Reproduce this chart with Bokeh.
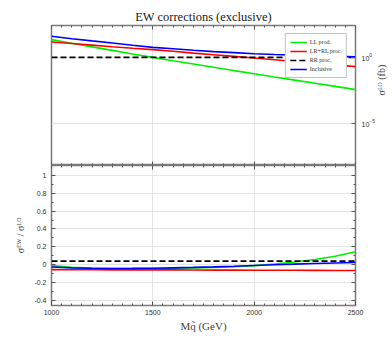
import math
from bokeh.plotting import figure
from bokeh.layouts import column
from bokeh.models import (FixedTicker, LinearAxis, Legend, LegendItem,
                          NumeralTickFormatter, Range1d, CustomLabelingPolicy)
from bokeh.embed import file_html
from bokeh.resources import INLINE

# ---------------- data ----------------
mass = [1000, 1100, 1200, 1300, 1400, 1500, 1600, 1700, 1800, 1900,
        2000, 2100, 2200, 2300, 2400, 2500]

# sigma^LO (fb)
lo_LL = [22.4, 11.7, 6.3, 3.4, 1.82, 1.0, 0.56, 0.32, 0.18, 0.10,
         0.058, 0.033, 0.019, 0.011, 0.0063, 0.0036]
lo_LR = [14.8, 11.2, 8.5, 6.5, 5.0, 3.9, 2.9, 2.1, 1.6, 1.2,
         0.89, 0.66, 0.49, 0.36, 0.27, 0.20]
lo_RR = [1.0] * 16
lo_inc = [40.0, 26.0, 17.8, 12.3, 8.3, 5.8, 4.5, 3.5, 2.75, 2.3,
          1.9, 1.66, 1.48, 1.32, 1.2, 1.12]

# sigma^EW / sigma^LO
r_LL = [-0.01, -0.03, -0.038, -0.042, -0.043, -0.042, -0.04, -0.036, -0.03, -0.022,
        -0.01, 0.008, 0.03, 0.058, 0.095, 0.145]
r_LR = [-0.055, -0.056, -0.056, -0.057, -0.057, -0.058, -0.058, -0.059, -0.06, -0.06,
        -0.061, -0.062, -0.062, -0.063, -0.064, -0.065]
r_RR = [0.04] * 16
r_inc = [-0.025, -0.035, -0.04, -0.042, -0.041, -0.039, -0.035, -0.03, -0.024, -0.017,
         -0.009, -0.001, 0.007, 0.014, 0.02, 0.025]

labels = ["LL prod.", "LR+RL proc.", "RR proc.", "Inclusive"]
colors = ["#00ee00", "#ff0000", "#000000", "#0000ff"]
dashes = ["solid", "solid", "6 3", "solid"]

x_major = [1000, 1500, 2000, 2500]
x_minor = list(range(1000, 2501, 50))
log_major = [1e-5, 1.0]
r_major = [-0.4, -0.2, 0, 0.2, 0.4, 0.6, 0.8, 1.0]
r_minor = [round(-0.4 + 0.1 * i, 2) for i in range(15)]

X_LIM = (1000, 2500)
LOG_LIM = (10 ** -8.2, 10 ** 2.42)
R_LIM = (-0.456, 1.11)

SERIF = "Liberation Serif"
SANS = "Liberation Sans"
AX = "#7a7a7a"
GRID = "#e4e4e4"


def style_axis(ax, labels_on=True):
    ax.axis_line_color = None
    ax.major_tick_in = 4
    ax.major_tick_out = 0
    ax.minor_tick_in = 2
    ax.minor_tick_out = 0
    ax.major_tick_line_color = "#555555"
    ax.minor_tick_line_color = "#555555"
    ax.major_label_text_font = SANS
    ax.major_label_text_color = "#333333"
    ax.axis_label_text_font = SERIF
    ax.axis_label_text_font_style = "normal"
    ax.axis_label_text_color = "#444444"
    if labels_on:
        ax.major_label_text_font_size = "7px"
        ax.major_label_standoff = 4
    else:
        ax.major_label_text_font_size = "1px"
        ax.major_label_standoff = 0
        ax.major_label_policy = CustomLabelingPolicy(code="return new Set()")


def x_ticker():
    return FixedTicker(ticks=x_major, minor_ticks=x_minor)


# ---------------- top panel ----------------
p1 = figure(frame_width=304, frame_height=140, x_range=Range1d(*X_LIM),
            y_range=Range1d(*LOG_LIM), y_axis_type="log",
            y_axis_location="right", x_axis_location=None,
            min_border_left=51, min_border_right=37, min_border_top=25, min_border_bottom=0,
            output_backend="svg", toolbar_location=None,
            title="EW corrections (exclusive)")
p1.title.text_font = SERIF
p1.title.text_font_size = "12.5px"
p1.title.text_font_style = "normal"
p1.title.align = "center"
p1.title.text_color = "#222222"
p1.title.standoff = 4

for side, loc in (("below", LOG_LIM[0]), ("above", LOG_LIM[1])):
    ax = LinearAxis(ticker=x_ticker(), fixed_location=loc)
    style_axis(ax, labels_on=False)
    p1.add_layout(ax, side)

p1.yaxis.ticker = FixedTicker(ticks=log_major, minor_ticks=[])
style_axis(p1.yaxis[0])
p1.yaxis.major_label_standoff = 6
p1.yaxis.axis_label = "σᴸᴼ (fb)"
p1.yaxis.axis_label_text_font_size = "10px"
p1.yaxis.axis_label_standoff = 4
p1.yaxis.axis_label_orientation = math.pi / 2

p1.outline_line_color = AX
p1.outline_line_width = 1.5
p1.ygrid.grid_line_color = GRID
p1.xgrid.grid_line_color = GRID
p1.xgrid.ticker = FixedTicker(ticks=x_major)

items = []
for lab, ys, c, d in zip(labels, [lo_LL, lo_LR, lo_RR, lo_inc], colors, dashes):
    r = p1.line(mass, ys, line_color=c, line_width=1.6, line_dash=d)
    items.append(LegendItem(label=lab, renderers=[r]))

leg = Legend(items=items, location="top_right")
leg.label_text_font = SERIF
leg.label_text_font_size = "6px"
leg.label_text_color = "#333333"
leg.glyph_width = 17
leg.glyph_height = 8
leg.label_height = 8
leg.spacing = 1
leg.padding = 4
leg.margin = 8
leg.label_standoff = 3
leg.border_line_color = "#888888"
leg.border_line_width = 1.5
leg.background_fill_alpha = 1
p1.add_layout(leg)

# ---------------- bottom panel ----------------
p2 = figure(frame_width=304, frame_height=140, x_range=p1.x_range,
            y_range=Range1d(*R_LIM),
            min_border_left=51, min_border_right=37, min_border_top=0, min_border_bottom=0,
            output_backend="svg", toolbar_location=None)
p2.xaxis.ticker = x_ticker()
style_axis(p2.xaxis[0])
p2.xaxis.axis_label = "Mq̃ (GeV)"
p2.xaxis.axis_label_text_font_size = "11px"
p2.xaxis.axis_label_standoff = 2

p2.yaxis.ticker = FixedTicker(ticks=r_major, minor_ticks=r_minor)
p2.yaxis.formatter = NumeralTickFormatter(format="0.[0]")
style_axis(p2.yaxis[0])
p2.yaxis.major_label_standoff = 5
p2.yaxis.axis_label = "σᴱᵂ / σᴸᴼ"
p2.yaxis.axis_label_text_font_size = "10px"
p2.yaxis.axis_label_standoff = 5

ax_r = LinearAxis(ticker=FixedTicker(ticks=r_major, minor_ticks=r_minor), fixed_location=X_LIM[1])
style_axis(ax_r, labels_on=False)
p2.add_layout(ax_r, "right")
ax_t = LinearAxis(ticker=x_ticker(), fixed_location=R_LIM[1])
style_axis(ax_t, labels_on=False)
p2.add_layout(ax_t, "above")

p2.outline_line_color = AX
p2.outline_line_width = 1.5
p2.xgrid.grid_line_color = GRID
p2.ygrid.grid_line_color = GRID

for ys, c, d in zip([r_LL, r_LR, r_RR, r_inc], colors, dashes):
    p2.line(mass, ys, line_color=c, line_width=1.6, line_dash=d)

layout = column(p1, p2, spacing=0)
open("out.html", "w").write(file_html(layout, INLINE))
